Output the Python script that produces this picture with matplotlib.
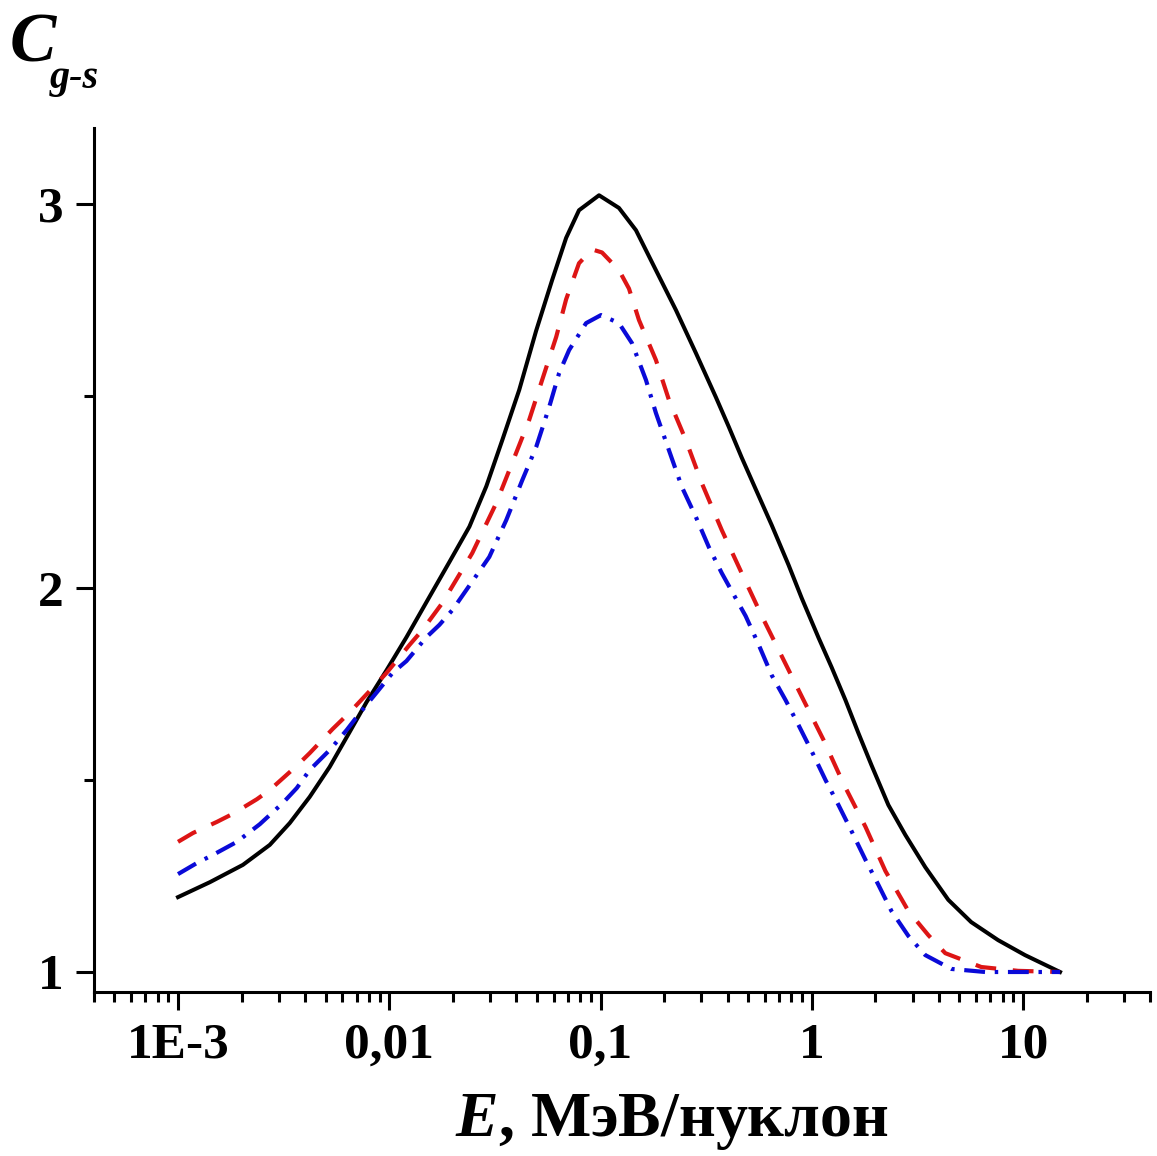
import numpy as np
import matplotlib.pyplot as plt
from matplotlib.ticker import FixedLocator, FixedFormatter, LogLocator, NullFormatter

plt.rcParams["font.family"] = "Liberation Serif"
plt.rcParams["font.weight"] = "bold"
plt.rcParams["mathtext.fontset"] = "custom"
plt.rcParams["mathtext.it"] = "Liberation Serif:style=italic:weight=bold"
plt.rcParams["mathtext.rm"] = "Liberation Serif:weight=bold"
plt.rcParams["lines.scale_dashes"] = False

# energy (MeV/nucleon) and C_g-s
e_black = [0.001, 0.001416, 0.002028, 0.002718, 0.00338, 0.004199, 0.00522, 0.00649,
           0.007808, 0.009707, 0.01206, 0.01549, 0.01926, 0.02395, 0.02879, 0.03425,
           0.04121, 0.04955, 0.05898, 0.06871, 0.07907, 0.09837, 0.1222, 0.1471,
           0.1828, 0.2274, 0.2827, 0.3515, 0.4045, 0.4656, 0.542, 0.6457, 0.7762,
           0.8954, 1.077, 1.24, 1.443, 1.662, 1.915, 2.303, 2.771, 3.444, 4.425,
           5.679, 7.617, 10.21, 14.96]
c_black = [1.195, 1.234, 1.279, 1.331, 1.388, 1.456, 1.534, 1.625,
           1.703, 1.786, 1.872, 1.977, 2.068, 2.160, 2.265, 2.385,
           2.516, 2.670, 2.802, 2.912, 2.984, 3.023, 2.990, 2.932,
           2.828, 2.724, 2.612, 2.497, 2.420, 2.340, 2.258, 2.164, 2.060,
           1.974, 1.870, 1.794, 1.708, 1.622, 1.539, 1.435, 1.357, 1.273, 1.188,
           1.130, 1.083, 1.044, 1.0]

e_red = [0.001, 0.001177, 0.001528, 0.001818, 0.002362, 0.002718, 0.003647, 0.004199,
         0.005395, 0.00649, 0.008337, 0.009707, 0.01247, 0.01436, 0.01782, 0.0247,
         0.03207, 0.03818, 0.04595, 0.05291, 0.06166, 0.06871, 0.07907, 0.09116,
         0.1016, 0.1222, 0.1363, 0.152, 0.1828, 0.2107, 0.2535, 0.3016, 0.3747,
         0.4656, 0.58, 0.7198, 0.9141, 1.137, 1.413, 1.795, 2.23, 2.863, 3.56,
         4.283, 6.339, 9.46, 14.96]
c_red = [1.339, 1.362, 1.391, 1.412, 1.450, 1.474, 1.537, 1.570,
         1.633, 1.676, 1.740, 1.779, 1.852, 1.891, 1.961, 2.091,
         2.221, 2.326, 2.438, 2.542, 2.654, 2.752, 2.846, 2.882,
         2.874, 2.828, 2.780, 2.698, 2.594, 2.490, 2.385, 2.273, 2.151,
         2.039, 1.927, 1.823, 1.708, 1.604, 1.490, 1.378, 1.263, 1.159, 1.096,
         1.049, 1.013, 1.003, 1.0]

e_blue = [0.001, 0.00123, 0.001463, 0.0019, 0.002439, 0.003131, 0.003647, 0.004199,
          0.00522, 0.006281, 0.007238, 0.00871, 0.01036, 0.01206, 0.01499, 0.01726,
          0.01991, 0.02316, 0.02974, 0.03578, 0.0426, 0.04955, 0.05709, 0.06368,
          0.07101, 0.08543, 0.1005, 0.1222, 0.1408, 0.164, 0.1828, 0.2107, 0.2427,
          0.2827, 0.3253, 0.3747, 0.4178, 0.4863, 0.5608, 0.6457, 0.7515, 0.8653,
          0.9965, 1.161, 1.337, 1.541, 1.795, 2.066, 2.381, 2.863, 3.444, 4.573,
          6.62, 14.96]
c_blue = [1.255, 1.284, 1.305, 1.339, 1.385, 1.440, 1.479, 1.526,
          1.578, 1.630, 1.674, 1.728, 1.779, 1.810, 1.872, 1.904,
          1.943, 1.995, 2.081, 2.177, 2.281, 2.367, 2.471, 2.560,
          2.620, 2.690, 2.711, 2.690, 2.638, 2.542, 2.456, 2.359, 2.263,
          2.185, 2.107, 2.039, 1.992, 1.927, 1.852, 1.773, 1.708, 1.643,
          1.576, 1.500, 1.435, 1.367, 1.292, 1.227, 1.159, 1.094, 1.044, 1.008,
          1.0, 1.0]

x_ticks = [1e-3, 1e-2, 1e-1, 1, 10]
x_labels = ["1E-3", "0,01", "0,1", "1", "10"]
y_ticks = [1, 2, 3]
y_labels = ["1", "2", "3"]

fig = plt.figure(figsize=(11.57, 11.56), dpi=100)
ax = fig.add_axes([0.0812, 0.1419, 0.913, 0.7473])

ax.plot(e_black, c_black, color="black", lw=2.9, solid_joinstyle="round")
ax.plot(e_red, c_red, color="#dd1515", lw=3.0, dashes=(15, 12))
ax.plot(e_blue, c_blue, color="#0a0ad8", lw=3.0, dashes=(15, 7, 2.5, 7))

ax.set_xscale("log")
ax.set_xlim(4e-4, 40)
ax.set_ylim(0.948, 3.198)

ax.xaxis.set_major_locator(FixedLocator(x_ticks))
ax.xaxis.set_major_formatter(FixedFormatter(x_labels))
ax.xaxis.set_minor_locator(LogLocator(base=10, subs=np.arange(2, 10)))
ax.xaxis.set_minor_formatter(NullFormatter())
ax.yaxis.set_major_locator(FixedLocator(y_ticks))
ax.yaxis.set_major_formatter(FixedFormatter(y_labels))
ax.yaxis.set_minor_locator(FixedLocator([1.5, 2.5]))

for side in ["top", "right"]:
    ax.spines[side].set_visible(False)
for side in ["left", "bottom"]:
    ax.spines[side].set_linewidth(2.2)

ax.tick_params(which="major", direction="out", length=13, width=2.2,
               labelsize=37, pad=9)
ax.tick_params(which="minor", direction="out", length=7, width=2.2)
for lab in ax.get_xticklabels() + ax.get_yticklabels():
    lab.set_fontweight("bold")

fig.text(672 / 1157, 1 - 1122 / 1156, r"$\mathit{E}$, МэВ/нуклон", fontsize=46,
         fontweight="bold", ha="center", va="center")
fig.text(10 / 1157, 1 - 62 / 1156, "C", fontsize=50, fontweight="bold",
         fontstyle="italic", ha="left", va="baseline")
fig.text(50 / 1157, 1 - 88 / 1156, "g-s", fontsize=29, fontweight="bold",
         fontstyle="italic", ha="left", va="baseline")

fig.savefig("out.png", dpi=100)
